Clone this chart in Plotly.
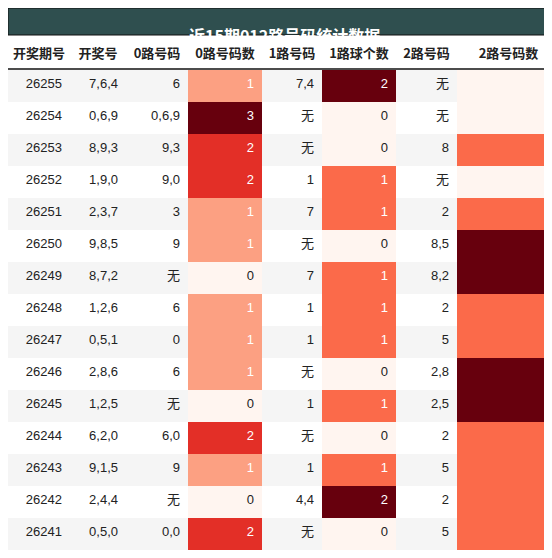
import plotly.graph_objects as go
from plotly.colors import sample_colorscale

periods = [26255, 26254, 26253, 26252, 26251, 26250, 26249, 26248, 26247, 26246, 26245, 26244, 26243, 26242, 26241]
draws = ["7,6,4", "0,6,9", "8,9,3", "1,9,0", "2,3,7", "9,8,5", "8,7,2", "1,2,6", "0,5,1", "2,8,6", "1,2,5", "6,2,0", "9,1,5", "2,4,4", "0,5,0"]
r0_nums = ["6", "0,6,9", "9,3", "9,0", "3", "9", "无", "6", "0", "6", "无", "6,0", "9", "无", "0,0"]
r0_cnt = [1, 3, 2, 2, 1, 1, 0, 1, 1, 1, 0, 2, 1, 0, 2]
r1_nums = ["7,4", "无", "无", "1", "7", "无", "7", "1", "1", "无", "1", "无", "1", "4,4", "无"]
r1_cnt = [2, 0, 0, 1, 1, 0, 1, 1, 1, 0, 1, 0, 1, 2, 0]
r2_nums = ["无", "无", "8", "无", "2", "8,5", "8,2", "2", "5", "2,8", "2,5", "2", "5", "2", "5"]
r2_cnt = [0, 0, 1, 0, 1, 2, 2, 1, 1, 2, 2, 1, 1, 1, 1]
headers = ["开奖期号", "开奖号", "0路号码", "0路号码数", "1路号码", "1路球个数", "2路号码", "2路号码数"]
title = "近15期012路号码统计数据"

row_bg = ["#f5f5f5" if i % 2 == 0 else "#ffffff" for i in range(len(periods))]

def heat(vals):
    m = max(vals)
    return sample_colorscale("Reds", [v / m for v in vals])

def txt(vals):
    return ["#ffffff" if v > 0 else "#222222" for v in vals]

dark = ["#222222"] * len(periods)
fills = [row_bg, row_bg, row_bg, heat(r0_cnt), row_bg, heat(r1_cnt), row_bg, heat(r2_cnt)]
fcols = [dark, dark, dark, txt(r0_cnt), dark, txt(r1_cnt), dark, txt(r2_cnt)]

fig = go.Figure(go.Table(
    domain=dict(x=[0, 1], y=[0, 1 - 27 / 558]),
    columnwidth=[62, 56, 62, 74, 60, 74, 61, 103],
    header=dict(values=["<b>%s</b>" % h for h in headers], fill_color="white",
                line=dict(width=0), align="center", height=34,
                font=dict(family="Noto Sans CJK SC", size=13, color="#222222")),
    cells=dict(values=[periods, draws, r0_nums, r0_cnt, r1_nums, r1_cnt, r2_nums, r2_cnt],
               fill_color=fills, line=dict(width=0), align="right", height=32,
               font=dict(family="Liberation Sans, Noto Sans CJK SC", size=13, color=fcols)),
))
fig.add_shape(type="rect", xref="paper", yref="paper", x0=0, x1=1, y0=1 - 27 / 558, y1=1,
              fillcolor="#2f4f4f", line=dict(color="#111", width=1))
fig.add_shape(type="line", xref="paper", yref="paper", x0=0, x1=1,
              y0=1 - 61 / 558, y1=1 - 61 / 558, line=dict(color="#111", width=1.5))
fig.add_annotation(text="<b>%s</b>" % title, xref="paper", yref="paper", x=0.5, y=1 - 13.5 / 558,
                   showarrow=False, font=dict(family="Noto Sans CJK SC", size=16, color="white"))
fig.update_layout(width=552, height=558, margin=dict(l=0, r=0, t=0, b=0),
                  paper_bgcolor="white")
fig.write_html("out.html")
